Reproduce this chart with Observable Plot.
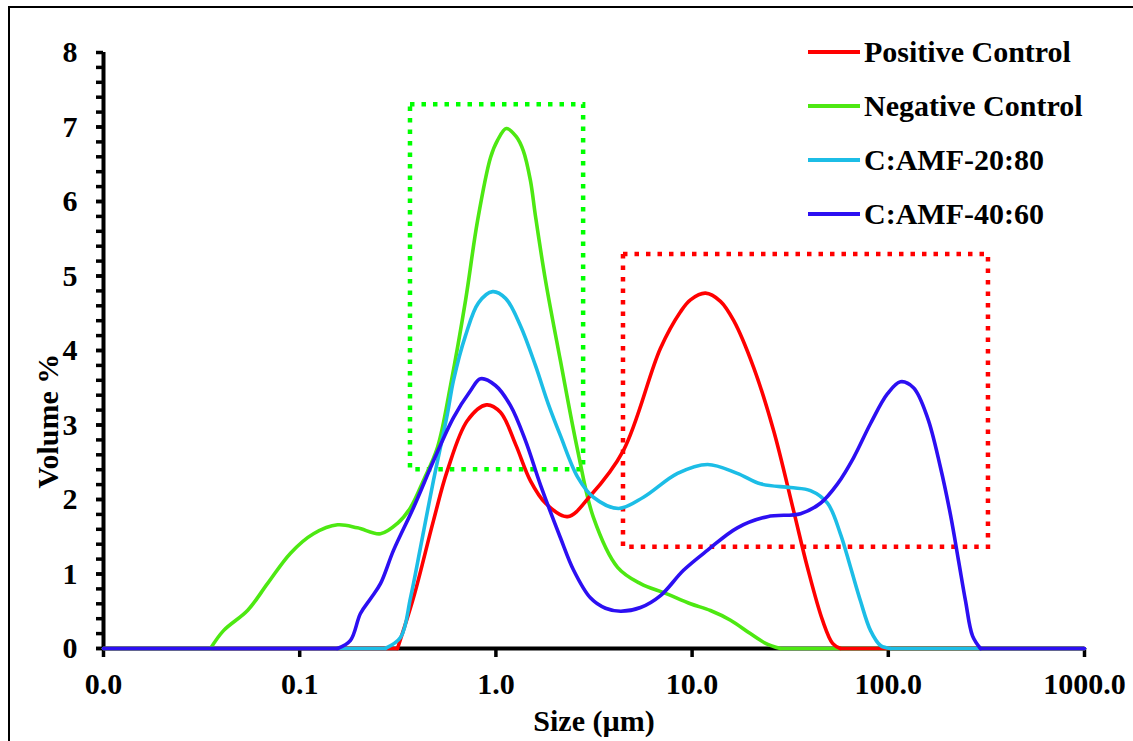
<!DOCTYPE html>
<html><head><meta charset="utf-8">
<script src="https://cdn.jsdelivr.net/npm/d3@7"></script>
<script src="https://cdn.jsdelivr.net/npm/@observablehq/plot@0.6"></script>
<style>
body{margin:0;background:#fff;overflow:hidden;}
#wrap{position:relative;width:1133px;height:741px;overflow:hidden;}
#frame{position:absolute;left:8px;top:6px;width:1300px;height:900px;border-left:2px solid #000;border-top:2px solid #000;}
#chart{position:absolute;left:0;top:0;}
#overlay{position:absolute;left:0;top:0;}
</style>
</head><body>
<div id="wrap"><div id="frame"></div><div id="chart"></div><svg id="overlay" width="1133" height="741"></svg></div>
<script>
// ---- data (size in µm, volume %) ----
const posSize = [0.01, 0.315, 0.380, 0.481, 0.566, 0.716, 0.895, 1.055, 1.26, 1.50, 1.79, 2.32, 3.03, 4.47, 6.90, 8.73, 9.81, 11.7, 13.95, 16.3, 20.6, 26.0, 32.9, 38.7, 46.2, 52.0, 57.0, 1000];
const posVol  = [0, 0, 0.68, 1.72, 2.39, 3.06, 3.27, 3.17, 2.74, 2.25, 1.95, 1.77, 2.05, 2.66, 4.03, 4.52, 4.68, 4.77, 4.66, 4.40, 3.77, 2.93, 1.85, 1.09, 0.38, 0.07, 0, 0];

const negSize = [0.01, 0.0351, 0.0409, 0.0542, 0.0685, 0.0898, 0.1176, 0.156, 0.197, 0.258, 0.315, 0.367, 0.428, 0.504, 0.587, 0.700, 0.806, 0.939, 1.019, 1.13, 1.27, 1.38, 1.50, 1.59, 1.79, 2.13, 2.61, 3.14, 4.17, 5.46, 7.32, 9.81, 12.4, 15.7, 19.8, 23.7, 28.2, 1000];
const negVol  = [0, 0, 0.24, 0.51, 0.87, 1.28, 1.54, 1.66, 1.62, 1.54, 1.68, 1.89, 2.26, 2.70, 3.53, 4.67, 5.74, 6.59, 6.82, 6.98, 6.87, 6.68, 6.28, 5.81, 4.94, 3.87, 2.66, 1.76, 1.09, 0.87, 0.74, 0.60, 0.51, 0.38, 0.20, 0.07, 0, 0];

const c20Size = [0.01, 0.273, 0.327, 0.367, 0.413, 0.481, 0.566, 0.608, 0.700, 0.815, 0.962, 1.12, 1.33, 1.59, 1.85, 2.13, 2.61, 3.14, 4.22, 5.65, 8.43, 12.0, 17.0, 22.3, 31.7, 40.1, 49.0, 57.0, 64.2, 72.1, 81.2, 91.3, 102.6, 1000];
const c20Vol  = [0, 0, 0.15, 0.68, 1.36, 2.26, 3.15, 3.60, 4.20, 4.64, 4.79, 4.70, 4.34, 3.80, 3.28, 2.86, 2.30, 2.03, 1.88, 2.03, 2.35, 2.47, 2.35, 2.21, 2.16, 2.12, 1.95, 1.54, 1.09, 0.64, 0.24, 0.04, 0, 0];

const c40Size = [0.01, 0.156, 0.1815, 0.204, 0.230, 0.258, 0.301, 0.380, 0.481, 0.608, 0.742, 0.835, 0.995, 1.187, 1.415, 1.69, 2.13, 2.49, 3.03, 3.62, 4.32, 5.46, 6.90, 9.04, 12.0, 17.0, 24.2, 35.7, 45.1, 55.1, 66.5, 81.2, 99.1, 115.4, 134.4, 158.4, 184.5, 207.6, 228, 247.5, 268.7, 295, 1000];
const c40Vol  = [0, 0, 0.11, 0.47, 0.67, 0.87, 1.32, 1.89, 2.52, 3.10, 3.46, 3.62, 3.53, 3.26, 2.79, 2.19, 1.49, 1.05, 0.68, 0.54, 0.50, 0.55, 0.71, 1.05, 1.32, 1.62, 1.77, 1.81, 1.95, 2.21, 2.56, 3.02, 3.42, 3.58, 3.50, 3.10, 2.43, 1.79, 1.18, 0.64, 0.17, 0, 0];

const seriesNames = ["Positive Control", "Negative Control", "C:AMF-20:80", "C:AMF-40:60"];
const seriesColors = ["#ff0000", "#4de812", "#1cbde6", "#2c0ff2"];

const xTicks = [0.01, 0.1, 1, 10, 100, 1000];
const yTicks = [0, 1, 2, 3, 4, 5, 6, 7, 8];
const yMinorTicks = d3.range(0, 40).map(i => i / 5);

// highlight boxes [x1, x2, y1, y2]
const greenBox = [0.367, 2.80, 2.40, 7.30];
const redBox = [4.47, 324, 1.36, 5.29];

const xLabel = "Size (µm)";
const yLabel = "Volume %";

const toRows = (xs, ys, name) => xs.map((x, i) => ({size: x, vol: ys[i], name}));
const drawOrder = [1, 0, 2, 3];
const allSeries = [
  toRows(posSize, posVol, seriesNames[0]),
  toRows(negSize, negVol, seriesNames[1]),
  toRows(c20Size, c20Vol, seriesNames[2]),
  toRows(c40Size, c40Vol, seriesNames[3])
];
// split each series into flat zero tails (straight) and the curved body
function parts(rows) {
  const first = rows.findIndex(r => r.vol > 0) - 1;
  let last = rows.length - 1;
  while (last > 0 && rows[last - 1].vol === 0) last--;
  return {head: rows.slice(0, first + 1), body: rows.slice(first, last + 1), tail: rows.slice(last)};
}
const boxRow = b => ({x1: b[0], x2: b[1], y1: b[2], y2: b[3]});

const font = "'Liberation Serif','Times New Roman',serif";
const FS = 30;

const lineMarks = [];
drawOrder.forEach(i => {
  const p = parts(allSeries[i]);
  const o = {x: "size", y: "vol", stroke: seriesColors[i], strokeWidth: 3.6};
  lineMarks.push(Plot.line(p.head, {...o, curve: "linear"}));
  lineMarks.push(Plot.line(p.tail, {...o, curve: "linear"}));
  lineMarks.push(Plot.line(p.body, {...o, curve: "catmull-rom"}));
});

const chart = Plot.plot({
  width: 1133, height: 741,
  marginLeft: 103, marginRight: 49, marginTop: 52, marginBottom: 93,
  x: {type: "log", domain: [0.01, 1000]},
  y: {domain: [0, 8]},
  style: {fontFamily: font, fontWeight: "bold", fontSize: FS + "px", color: "#000", background: "transparent", overflow: "visible"},
  marks: [
    Plot.axisY({ticks: yMinorTicks, tickSize: 7, text: null, strokeWidth: 3.5, label: null}),
    Plot.axisY({ticks: yTicks, tickSize: 7, tickPadding: 19, strokeWidth: 3.5, label: null, fontSize: FS, fontWeight: "bold", tickFormat: d => String(d)}),
    Plot.axisX({ticks: xTicks, tickSize: 9, tickPadding: 15, strokeWidth: 3.5, label: null, fontSize: FS, fontWeight: "bold", tickFormat: d => d.toFixed(1)}),
    Plot.ruleY([0], {stroke: "#000", strokeWidth: 4}),
    Plot.ruleX([0.01], {stroke: "#000", strokeWidth: 4}),
    Plot.rect([boxRow(greenBox)], {x1: "x1", x2: "x2", y1: "y1", y2: "y2", fill: "none", stroke: "#00ff00", strokeWidth: 4.5, strokeDasharray: "4.5,7"}),
    Plot.rect([boxRow(redBox)], {x1: "x1", x2: "x2", y1: "y1", y2: "y2", fill: "none", stroke: "#ff0000", strokeWidth: 4.5, strokeDasharray: "4.5,7"}),
    ...lineMarks
  ]
});
document.getElementById("chart").appendChild(chart);

// legend and axis titles
const ov = d3.select("#overlay");
const legY = [52, 106, 160, 214];
seriesNames.forEach((n, i) => {
  ov.append("line").attr("x1", 808).attr("x2", 860).attr("y1", legY[i]).attr("y2", legY[i])
    .attr("stroke", seriesColors[i]).attr("stroke-width", 4);
  ov.append("text").attr("x", 864).attr("y", legY[i] + 10).text(n)
    .attr("font-family", font).attr("font-weight", "bold").attr("font-size", FS).attr("fill", "#000");
});
ov.append("text").attr("x", 594).attr("y", 731).attr("text-anchor", "middle").text(xLabel)
  .attr("font-family", font).attr("font-weight", "bold").attr("font-size", FS);
ov.append("text").attr("transform", "translate(58,421) rotate(-90)").attr("text-anchor", "middle").text(yLabel)
  .attr("font-family", font).attr("font-weight", "bold").attr("font-size", FS);
</script>
</body></html>
